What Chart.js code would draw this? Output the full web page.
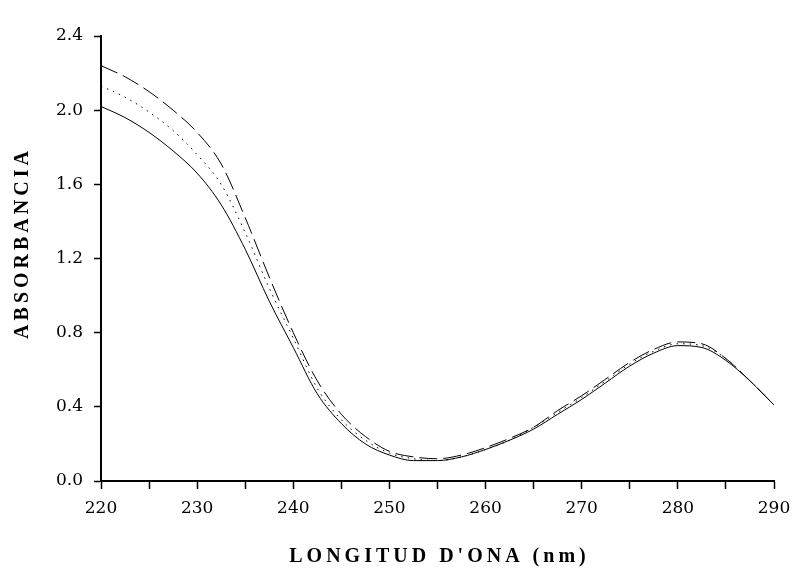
<!DOCTYPE html>
<html>
<head>
<meta charset="utf-8">
<script src="https://cdn.jsdelivr.net/npm/chart.js@4.4.1/dist/chart.umd.min.js"></script>
<style>
  html, body { margin: 0; padding: 0; background: #fff; }
  #wrap { width: 793px; height: 570px; position: relative; }
</style>
</head>
<body>
<div id="wrap"><canvas id="myChart"></canvas></div>
<script>
/* Absorption spectra - three samples */

const wavelengths = [220, 222.5, 225, 227.5, 230, 232.5, 235, 237.5, 240, 242.5, 245, 247.5, 250, 252.5,
  255, 257.5, 260, 262.5, 265, 267.5, 270, 272.5, 275, 277.5, 280, 282.5, 285, 287.5, 290];

const solidValues = [2.02, 1.96, 1.88, 1.78, 1.66, 1.49, 1.25, 0.97, 0.72, 0.47, 0.31, 0.20, 0.14, 0.11,
  0.11, 0.13, 0.17, 0.22, 0.28, 0.36, 0.44, 0.53, 0.62, 0.69, 0.73, 0.72, 0.65, 0.54, 0.41];
const dottedValues = [2.13, 2.07, 1.99, 1.89, 1.76, 1.60, 1.34, 1.04, 0.77, 0.50, 0.33, 0.22, 0.15, 0.12,
  0.11, 0.13, 0.17, 0.22, 0.29, 0.37, 0.45, 0.54, 0.63, 0.70, 0.74, 0.73, 0.66, 0.54, 0.41];
const dashedValues = [2.24, 2.18, 2.10, 2.00, 1.88, 1.71, 1.42, 1.10, 0.80, 0.54, 0.36, 0.24, 0.16, 0.13,
  0.12, 0.14, 0.18, 0.23, 0.29, 0.38, 0.46, 0.55, 0.64, 0.71, 0.75, 0.74, 0.66, 0.54, 0.41];

const xTitle = 'LONGITUD D\'ONA (nm)';
const yTitle = 'ABSORBANCIA';

function toPoints(values) {
  return values.map(function(v, i) {
    return { x: wavelengths[i], y: v };
  });
}

function lineSet(label, values, dash) {
  return {
    label: label,
    data: toPoints(values),
    borderColor: '#000',
    borderWidth: 1,
    borderDash: dash,
    pointRadius: 0,
    fill: false,
    cubicInterpolationMode: 'monotone'
  };
}

// axis titles drawn by hand so the letter spacing can match
const axisTitles = {
  id: 'axisTitles',
  afterDraw: function(chart) {
    const ctx = chart.ctx;
    const area = chart.chartArea;
    ctx.save();
    ctx.fillStyle = '#000';
    ctx.font = 'bold 20px "Liberation Serif", "Times New Roman", serif';
    ctx.letterSpacing = '4px';
    ctx.textAlign = 'center';
    ctx.textBaseline = 'middle';
    ctx.fillText(xTitle, (area.left + area.right) / 2 + 2, 557);
    ctx.translate(23, 245);
    ctx.rotate(-Math.PI / 2);
    ctx.fillText(yTitle, 2, 0);
    ctx.restore();
  }
};

const tickFont = { family: '"DejaVu Serif", serif', size: 17 };

let ctx = document.getElementById('myChart').getContext('2d');
// eslint-disable-next-line
let chart = new Chart(ctx, {
  type: 'line',
  data: {
    datasets: [
      lineSet('A', solidValues, []),
      lineSet('B', dottedValues, [1.5, 5]),
      lineSet('C', dashedValues, [18, 6])
    ]
  },
  options: {
    responsive: true,
    maintainAspectRatio: false,
    animation: false,
    layout: {
      padding: { left: 0, right: 19, top: 36, bottom: 0 }
    },
    plugins: {
      legend: { display: false },
      tooltip: { enabled: false }
    },
    scales: {
      x: {
        type: 'linear',
        min: 220,
        max: 290,
        afterFit: function(scale) {
          scale.height = 89;
          scale.paddingLeft = 0;
          scale.paddingRight = 0;
        },
        grid: {
          drawOnChartArea: false,
          tickLength: 8,
          tickColor: '#000',
          tickWidth: 1.5
        },
        border: { color: '#000', width: 2 },
        ticks: {
          stepSize: 5,
          color: '#000',
          font: tickFont,
          padding: 9,
          maxRotation: 0,
          autoSkip: false,
          callback: function(v) { return v % 10 === 0 ? String(v) : ''; }
        }
      },
      y: {
        min: 0,
        max: 2.4,
        afterFit: function(scale) { scale.width = 101; },
        grid: {
          drawOnChartArea: false,
          tickLength: 7,
          tickColor: '#000',
          tickWidth: 1.5
        },
        border: { color: '#000', width: 2 },
        ticks: {
          stepSize: 0.4,
          color: '#000',
          font: tickFont,
          padding: 11,
          callback: function(v) { return Number(v).toFixed(1); }
        }
      }
    }
  },
  plugins: [axisTitles]
});
</script>
</body>
</html>
